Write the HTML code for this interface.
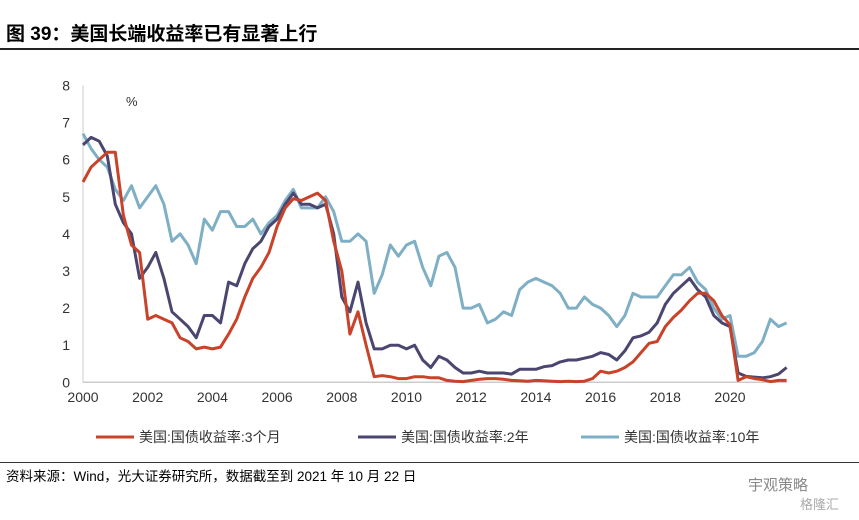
<!DOCTYPE html>
<html><head><meta charset="utf-8"><style>
body{margin:0;width:859px;height:520px;background:#fff;position:relative;font-family:"Liberation Sans","Noto Sans CJK SC",sans-serif;overflow:hidden}
.t{position:absolute;white-space:nowrap}
</style></head><body>
<div class="t" style="left:6px;top:19px;font-size:19px;font-weight:bold;color:#000">图 39：美国长端收益率已有显著上行</div>
<div style="position:absolute;left:0;top:48px;width:859px;height:2px;background:#222"></div>
<svg id="chart" width="859" height="520" style="position:absolute;left:0;top:0"></svg>
<div style="position:absolute;left:0;top:462px;width:859px;height:1px;background:#333"></div>
<div class="t" style="left:6px;top:465px;font-size:13.5px;color:#000">资料来源：Wind，光大证券研究所，数据截至到 2021 年 10 月 22 日</div>
<div class="t" style="left:748px;top:474px;font-size:15px;color:#888">宇观策略</div>
<div class="t" style="left:800px;top:494px;font-size:13px;color:#aaa">格隆汇</div>
<script>
const years=[];for(let i=0;i<88;i++)years.push(2000+i*0.25);
const y10=[6.7,6.3,6.0,5.8,5.2,4.9,5.3,4.7,5.0,5.3,4.8,3.8,4.0,3.7,3.2,4.4,4.1,4.6,4.6,4.2,4.2,4.4,4.0,4.3,4.5,4.9,5.2,4.7,4.7,4.7,5.0,4.6,3.8,3.8,4.0,3.8,2.4,2.9,3.7,3.4,3.7,3.8,3.1,2.6,3.4,3.5,3.1,2.0,2.0,2.1,1.6,1.7,1.9,1.8,2.5,2.7,2.8,2.7,2.6,2.4,2.0,2.0,2.3,2.1,2.0,1.8,1.5,1.8,2.4,2.3,2.3,2.3,2.6,2.9,2.9,3.1,2.7,2.5,2.0,1.7,1.8,0.7,0.7,0.8,1.1,1.7,1.5,1.6];
const y2=[6.4,6.6,6.5,6.1,4.8,4.3,4.0,2.8,3.1,3.5,2.8,1.9,1.7,1.5,1.2,1.8,1.8,1.6,2.7,2.6,3.2,3.6,3.8,4.2,4.4,4.8,5.1,4.8,4.8,4.7,4.8,4.0,2.3,1.9,2.7,1.6,0.9,0.9,1.0,1.0,0.9,1.0,0.6,0.4,0.7,0.6,0.4,0.25,0.25,0.3,0.25,0.25,0.25,0.22,0.35,0.35,0.35,0.42,0.45,0.55,0.6,0.6,0.65,0.7,0.8,0.75,0.6,0.85,1.2,1.25,1.35,1.6,2.1,2.4,2.6,2.8,2.5,2.3,1.8,1.6,1.5,0.25,0.16,0.14,0.12,0.15,0.22,0.4];
const m3=[5.4,5.8,6.0,6.2,6.2,4.5,3.7,3.5,1.7,1.8,1.7,1.6,1.2,1.1,0.9,0.95,0.9,0.95,1.3,1.7,2.3,2.8,3.1,3.5,4.2,4.7,4.95,4.9,5.0,5.1,4.9,3.8,3.0,1.3,1.9,1.0,0.15,0.18,0.15,0.1,0.1,0.15,0.15,0.12,0.12,0.05,0.03,0.02,0.05,0.08,0.1,0.1,0.08,0.05,0.04,0.03,0.05,0.04,0.03,0.02,0.03,0.02,0.03,0.1,0.3,0.25,0.3,0.4,0.55,0.8,1.05,1.1,1.5,1.75,1.95,2.2,2.4,2.4,2.2,1.8,1.55,0.05,0.15,0.1,0.07,0.02,0.05,0.05];
const xTicks=[2000,2002,2004,2006,2008,2010,2012,2014,2016,2018,2020];
const yTicks=[0,1,2,3,4,5,6,7,8];
const legendLabels=["美国:国债收益率:3个月","美国:国债收益率:2年","美国:国债收益率:10年"];
const colors=["#c8432a","#4a4670","#7fafc4"];
const X=v=>83+(v-2000)*32.35, Y=v=>382.3-v*37.1;
const svg=document.getElementById('chart');const NS="http://www.w3.org/2000/svg";
function mk(t,a){const e=document.createElementNS(NS,t);for(const k in a)e.setAttribute(k,a[k]);svg.appendChild(e);return e;}
let ax=mk('line',{x1:83,y1:Y(8),x2:83,y2:Y(0),stroke:'#ccc'});


let bx=mk('line',{x1:83,y1:Y(0),x2:787,y2:Y(0),stroke:'#ccc','stroke-width':1.5});


yTicks.forEach(v=>{const t=mk('text',{x:70,y:Y(v)+5,'font-size':14,'text-anchor':'end',fill:'#333'});t.textContent=v;

});
xTicks.forEach(v=>{const t=mk('text',{x:X(v),y:402,'font-size':14,'text-anchor':'middle',fill:'#333'});t.textContent=v;

});
const pc=mk('text',{x:126,y:106,'font-size':13,fill:'#333'});pc.textContent='%';


const series=[y10,y2,m3],sc=[colors[2],colors[1],colors[0]],sn=['line-10y','line-2y','line-3m'];
series.forEach((s,i)=>{const d=s.map((v,j)=>(j?'L':'M')+X(years[j]).toFixed(1)+' '+Y(v).toFixed(1)).join(' ');
const p=mk('path',{d:d,fill:'none',stroke:sc[i],'stroke-width':3,'stroke-linejoin':'round'});

});
const lx=[96,358,581];
legendLabels.forEach((l,i)=>{const ln=mk('line',{x1:lx[i],y1:437,x2:lx[i]+38,y2:437,stroke:colors[i],'stroke-width':3});


const t=mk('text',{x:lx[i]+43,y:442,'font-size':14,fill:'#333'});t.textContent=l;

});
</script>
</body></html>
